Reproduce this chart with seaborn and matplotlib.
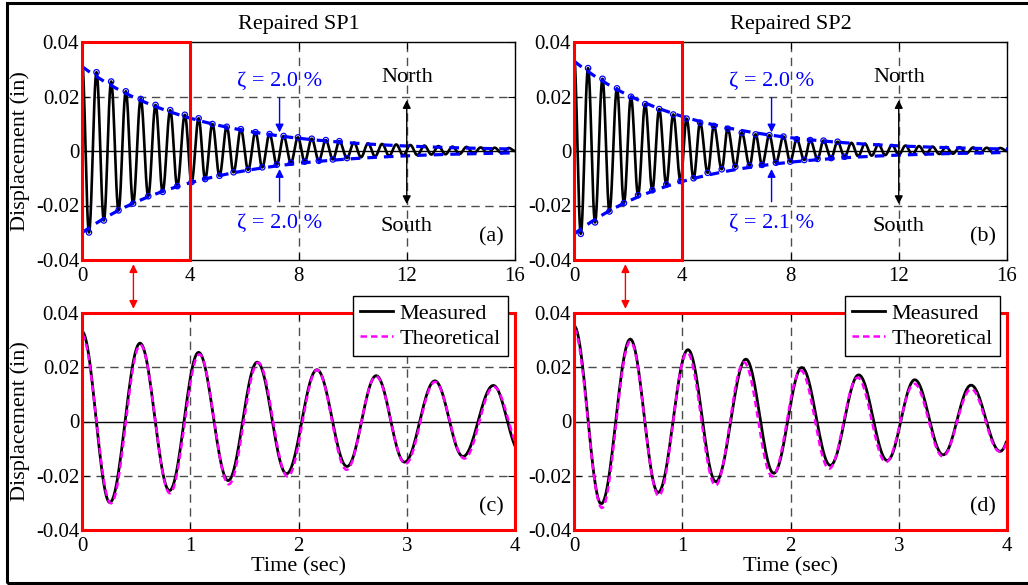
import numpy as np
import pandas as pd
import matplotlib
matplotlib.use("Agg")
import matplotlib.pyplot as plt
import seaborn as sns
from matplotlib.patches import Rectangle, ConnectionPatch

# ---------------- data ----------------
titles = ["Repaired SP1", "Repaired SP2"]
panel_tags = ["(a)", "(b)", "(c)", "(d)"]
top_xticks = [0, 4, 8, 12, 16]
bot_xticks = [0, 1, 2, 3, 4]
yticks = [-0.04, -0.02, 0, 0.02, 0.04]
ytick_labels = ["-0.04", "-0.02", "0", "0.02", "0.04"]
zeta_text_up = ["\u03b6 = 2.0 %", "\u03b6 = 2.0 %"]
zeta_text_dn = ["\u03b6 = 2.0 %", "\u03b6 = 2.1 %"]

# measured extrema (time s, displacement in) - SP1
sp1_t = [0.0, 0.257, 0.536, 0.808, 1.077, 1.35, 1.619, 1.889, 2.17, 2.448, 2.718, 2.98,
         3.26, 3.52, 3.80, 4.05, 4.31, 4.55, 4.82, 5.08, 5.35, 5.60, 5.87, 6.14, 6.41,
         6.66, 6.93, 7.20, 7.45, 7.72, 7.98, 8.23, 8.49, 8.75, 9.01, 9.27, 9.51, 9.79,
         10.05, 10.31, 10.57, 10.83, 11.09, 11.35, 11.61, 11.87, 12.13, 12.39, 12.65,
         12.91, 13.17, 13.43, 13.69, 13.95, 14.21, 14.47, 14.73, 14.99, 15.25, 15.51,
         15.77, 16.0]
sp1_v = [0.0332, -0.0299, 0.0289, -0.0255, 0.0255, -0.0218, 0.0219, -0.0193, 0.0191,
         -0.0166, 0.0169, -0.0150, 0.0150, -0.0129, 0.0133, -0.0114, 0.0120, -0.0103,
         0.0099, -0.0091, 0.0089, -0.0078, 0.0080, -0.0069, 0.0069, -0.0060, 0.0062,
         -0.0050, 0.0055, -0.0043, 0.0050, -0.0039, 0.0045, -0.0036, 0.0040, -0.0031,
         0.0036, -0.0026, 0.0031, -0.0023, 0.0028, -0.0020, 0.0026, -0.0018, 0.0024,
         -0.0016, 0.0022, -0.0015, 0.0020, -0.0013, 0.0018, -0.0012, 0.0016, -0.0011,
         0.0015, -0.0010, 0.0013, -0.0009, 0.0012, -0.0008, 0.0011, 0.0]

# measured extrema - SP2
sp2_t = [0.0, 0.251, 0.52, 0.777, 1.053, 1.31, 1.588, 1.845, 2.105, 2.368, 2.63, 2.894,
         3.148, 3.41, 3.668, 3.937, 4.16, 4.42, 4.66, 4.94, 5.17, 5.46, 5.68, 5.96, 6.20,
         6.49, 6.71, 6.95, 7.22, 7.46, 7.74, 7.99, 8.23, 8.51, 8.73, 9.00, 9.22, 9.50,
         9.74, 10.0, 10.25, 10.5, 10.75, 11.0, 11.25, 11.5, 11.75, 12.0, 12.25, 12.5,
         12.75, 13.0, 13.25, 13.5, 13.75, 14.0, 14.25, 14.5, 14.75, 15.0, 15.25, 15.5,
         15.75, 16.0]
sp2_v = [0.0353, -0.0304, 0.0304, -0.0262, 0.0265, -0.0222, 0.0230, -0.0191, 0.0199,
         -0.0162, 0.0172, -0.0144, 0.0154, -0.0123, 0.0134, -0.0110, 0.0119, -0.0100,
         0.0104, -0.0080, 0.0092, -0.0067, 0.0082, -0.0058, 0.0067, -0.0054, 0.0061,
         -0.0051, 0.0058, -0.0043, 0.0053, -0.0039, 0.0043, -0.0033, 0.0040, -0.0029,
         0.0038, -0.0026, 0.0034, -0.0021, 0.0030, -0.0019, 0.0027, -0.0017, 0.0024,
         -0.0015, 0.0022, -0.0014, 0.0020, -0.0013, 0.0018, -0.0012, 0.0016, -0.0011,
         0.0015, -0.0010, 0.0014, -0.0009, 0.0013, -0.0008, 0.0012, -0.0007, 0.0011, 0.0]

# circle-marked peaks end time (s)
marked_until = [9.85, 10.05]

# envelope fits: amplitude (upper, lower), damping ratio (upper, lower), frequency Hz
env_amp = [(0.031, -0.030), (0.033, -0.0305)]
env_zeta = [(0.020, 0.020), (0.020, 0.021)]
env_freq = [1.88, 1.90]

# theoretical response parameters: amplitude, damping ratio, frequency Hz, phase rad
theo_amp = [0.0322, 0.0343]
theo_zeta = [0.021, 0.024]
theo_freq = [1.838, 1.906]
theo_phase = [0.03, 0.03]

# ---------------- style ----------------
plt.rcParams["font.family"] = ["Liberation Serif", "DejaVu Serif"]
plt.rcParams["mathtext.fontset"] = "stix"
plt.rcParams["axes.linewidth"] = 1.0

W, H = 1028, 585
fig = plt.figure(figsize=(W / 100, H / 100), dpi=100)


def frac_box(l, t, r, b):
    return [l / W, 1 - b / H, (r - l) / W, (b - t) / H]


ax_top = [fig.add_axes(frac_box(82, 42, 515, 260)), fig.add_axes(frac_box(574, 42, 1007, 260))]
ax_bot = [fig.add_axes(frac_box(82, 313, 515, 530)), fig.add_axes(frac_box(574, 313, 1007, 530))]

GRID_C = "0.3"


def smooth_through(t_ext, v_ext, n=24):
    ts, vs = [], []
    for i in range(len(t_ext) - 1):
        s = np.linspace(0, 1, n, endpoint=False)
        ts.append(t_ext[i] + (t_ext[i + 1] - t_ext[i]) * s)
        vs.append(v_ext[i] + (v_ext[i + 1] - v_ext[i]) * (1 - np.cos(np.pi * s)) / 2)
    ts.append([t_ext[-1]])
    vs.append([v_ext[-1]])
    return np.concatenate(ts), np.concatenate(vs)


def style_axes(ax, xlim, xticks, fs=15):
    ax.set_xlim(*xlim)
    ax.set_ylim(-0.04, 0.04)
    ax.set_xticks(xticks)
    ax.set_xticklabels([str(x) for x in xticks])
    ax.set_yticks(yticks)
    ax.set_yticklabels(ytick_labels)
    ax.tick_params(direction="in", top=True, right=True, length=5, width=0.8,
                   labelsize=fs, color="black")
    ax.tick_params(axis="y", pad=2)
    ax.tick_params(axis="x", pad=5)
    for x in xticks[1:-1]:
        ax.axvline(x, color=GRID_C, lw=1.0, ls=(0, (6, 4)), zorder=1)
    for y in [-0.02, 0.02]:
        ax.axhline(y, color=GRID_C, lw=1.0, ls=(0, (6, 4)), zorder=1)
    ax.axhline(0, color="black", lw=1.0, zorder=2)


data_t = [sp1_t, sp2_t]
data_v = [sp1_v, sp2_v]

for i in range(2):
    ta = np.array(data_t[i])
    va = np.array(data_v[i])
    tm, vm = smooth_through(ta, va)
    df = pd.DataFrame({"t": tm, "v": vm})

    # ---------- top panel ----------
    ax = ax_top[i]
    style_axes(ax, (0, 16), top_xticks)
    sns.lineplot(data=df, x="t", y="v", ax=ax, color="black", lw=1.9,
                 estimator=None, sort=False, zorder=3)
    te = np.linspace(0, 16, 400)
    om = 2 * np.pi * env_freq[i]
    up = env_amp[i][0] * np.exp(-env_zeta[i][0] * om * te)
    dn = env_amp[i][1] * np.exp(-env_zeta[i][1] * om * te)
    for env in (up, dn):
        sns.lineplot(x=te, y=env, ax=ax, color="#0000ff", lw=2.3,
                     linestyle=(0, (3, 2.2)), estimator=None, sort=False, zorder=4)
    mask = (ta > 0.1) & (ta < marked_until[i])
    sns.scatterplot(x=ta[mask], y=va[mask], ax=ax, marker="o", s=15,
                    facecolor="none", edgecolor="#0000ff", linewidth=0.9, zorder=5)

    ax.add_patch(Rectangle((0, -0.04), 4, 0.08, fill=False, edgecolor="#ff0000",
                           lw=2.2, zorder=6, clip_on=False))
    ax.set_title(titles[i], fontsize=16, pad=9)
    ax.set_xlabel("")
    ax.set_ylabel("")

    ax.text(7.3, 0.0255, zeta_text_up[i], color="#0000ff", fontsize=16,
            ha="center", va="center", zorder=7)
    ax.text(7.3, -0.0265, zeta_text_dn[i], color="#0000ff", fontsize=16,
            ha="center", va="center", zorder=7)
    ax.annotate("", xy=(7.3, 0.0068), xytext=(7.3, 0.0195),
                arrowprops=dict(arrowstyle="-|>", color="#0000ff", lw=1.0,
                                mutation_scale=12, shrinkA=0, shrinkB=0), zorder=7)
    ax.annotate("", xy=(7.3, -0.0066), xytext=(7.3, -0.0186),
                arrowprops=dict(arrowstyle="-|>", color="#0000ff", lw=1.0,
                                mutation_scale=12, shrinkA=0, shrinkB=0), zorder=7)
    ax.text(12, 0.0268, "North", fontsize=16, ha="center", va="center")
    ax.text(12, -0.0276, "South", fontsize=16, ha="center", va="center")
    ax.annotate("", xy=(12, 0.0187), xytext=(12, 0.0),
                arrowprops=dict(arrowstyle="-|>", color="black", lw=1.0,
                                mutation_scale=12, shrinkA=0, shrinkB=0), zorder=7)
    ax.annotate("", xy=(12, -0.0195), xytext=(12, 0.0),
                arrowprops=dict(arrowstyle="-|>", color="black", lw=1.0,
                                mutation_scale=12, shrinkA=0, shrinkB=0), zorder=7)
    ax.text(0.975, 0.06, panel_tags[i], transform=ax.transAxes, fontsize=16,
            ha="right", va="bottom")

    # ---------- bottom panel ----------
    axb = ax_bot[i]
    style_axes(axb, (0, 4), bot_xticks)
    sel = tm <= 4.0
    sns.lineplot(x=tm[sel], y=vm[sel], ax=axb, color="black", lw=2.0,
                 estimator=None, sort=False, zorder=3, label="Measured")
    tt = np.linspace(0, 4, 800)
    omt = 2 * np.pi * theo_freq[i]
    theo = theo_amp[i] * np.exp(-theo_zeta[i] * omt * tt) * np.cos(
        omt * np.sqrt(1 - theo_zeta[i] ** 2) * tt + theo_phase[i])
    sns.lineplot(x=tt, y=theo, ax=axb, color="#ff00ff", lw=1.8,
                 linestyle=(0, (2.6, 1.6)), estimator=None, sort=False, zorder=4,
                 label="Theoretical")
    for sp in axb.spines.values():
        sp.set_color("#ff0000")
        sp.set_linewidth(2.2)
        sp.set_zorder(6)
    axb.set_xlabel("Time (sec)", fontsize=16, labelpad=1)
    axb.set_ylabel("")
    axb.text(0.975, 0.06, panel_tags[i + 2], transform=axb.transAxes, fontsize=16,
             ha="right", va="bottom")
    leg = axb.legend(loc="upper right", bbox_to_anchor=(0.983, 1.077), fontsize=16,
                     frameon=True, fancybox=False, framealpha=1, edgecolor="black",
                     handlelength=1.5, handletextpad=0.3, borderpad=0.3,
                     labelspacing=0.22, borderaxespad=0)
    leg.get_frame().set_linewidth(1.0)
    leg.set_zorder(10)

    # red link arrow between top and bottom panel
    con = ConnectionPatch(xyA=(1.9, -0.04), coordsA="data", axesA=ax,
                          xyB=(0.475, 0.04), coordsB="data", axesB=axb,
                          arrowstyle="<|-|>", color="#ff0000", lw=1.0,
                          mutation_scale=12, shrinkA=3, shrinkB=3)
    fig.add_artist(con)

ax_top[0].set_ylabel("Displacement (in)", fontsize=16, labelpad=4)
ax_bot[0].set_ylabel("Displacement (in)", fontsize=16, labelpad=4)

# figure border
fig.add_artist(Rectangle((7 / W, 2 / H), 1.05, 1 - 5 / H, transform=fig.transFigure,
                         fill=False, edgecolor="black", lw=2.2, clip_on=False))

fig.savefig("out.png", dpi=100, facecolor="white")
